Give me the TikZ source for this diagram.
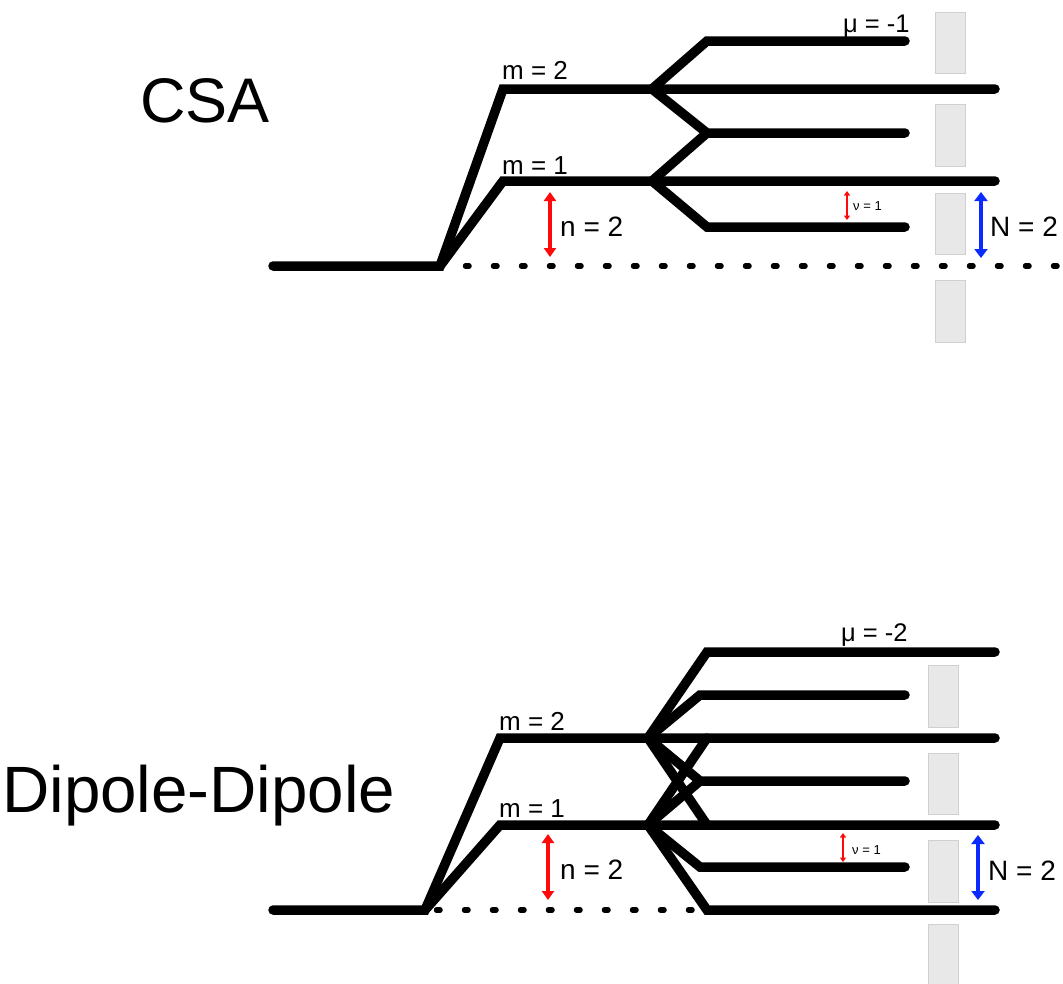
\documentclass[tikz,border=0pt]{standalone}
\usepackage{fontspec}
\setmainfont{Liberation Sans}
\usetikzlibrary{arrows.meta}
\definecolor{slotfill}{HTML}{E8E8E8}
\definecolor{slotdraw}{HTML}{D0D0D0}
\definecolor{nred}{HTML}{FF0A0A}
\definecolor{nblue}{HTML}{0A2AFF}
\tikzset{
  lvl/.style={line width=9.5pt, line cap=round, line join=miter},
  dotline/.style={line width=5.5pt, line cap=round, dash pattern=on 3.5pt off 24.5pt},
  slot/.style={fill=slotfill, draw=slotdraw, line width=0.8pt},
  redarr/.style={draw=nred, line width=3.5pt, {Triangle[width=12pt,length=9pt]}-{Triangle[width=12pt,length=9pt]}},
  bluearr/.style={draw=nblue, line width=4pt, {Triangle[width=13pt,length=9pt]}-{Triangle[width=13pt,length=9pt]}},
  smallarr/.style={draw=nred, line width=1.6pt, {Triangle[width=6pt,length=4.5pt]}-{Triangle[width=6pt,length=4.5pt]}},
  lbl/.style={anchor=base west, inner sep=0pt, font=\fontsize{26}{26}\selectfont},
  mulbl/.style={anchor=base west, inner sep=0pt, font=\fontsize{25.5}{26}\selectfont},
  biglbl/.style={anchor=base west, inner sep=0pt, font=\fontsize{28}{28}\selectfont},
  tinylbl/.style={anchor=base west, inner sep=0pt, font=\fontsize{13}{13}\selectfont},
  title/.style={anchor=base west, inner sep=0pt, font=\fontsize{63}{63}\selectfont}
}
\begin{document}
\begin{tikzpicture}[x=1pt,y=-1pt]
\useasboundingbox (0,0) rectangle (1063,983);

% ---------- CSA ----------
\node[title] (tcsa) at (140,122) {CSA};
\path[slot] (935,12) rectangle (965,73);
\path[slot] (935,104) rectangle (965,166);
\path[slot] (935,193) rectangle (965,254);
\path[slot] (935,280) rectangle (965,342);

\coordinate (tA) at (273,266);
\coordinate (tS) at (440,266);
\coordinate (tM2) at (503,89);
\coordinate (tM2r) at (652,89);
\coordinate (tM1) at (503,181);
\coordinate (tM1r) at (652,181);
\coordinate (tB1) at (707,41);  \coordinate (tE1) at (905,41);
\coordinate (tE2) at (995,89);
\coordinate (tB3) at (707,133); \coordinate (tE3) at (905,133);
\coordinate (tE4) at (995,181);
\coordinate (tB5) at (707,227); \coordinate (tE5) at (905,227);
\coordinate (tD) at (1075,266);

\draw[dotline, dash phase=2.5pt] (tS) -- (tD);
\draw[lvl] (tA) -- (tS) -- (tM2) -- (tM2r) -- (tE2);
\draw[lvl] (tS) -- (tM1) -- (tM1r) -- (tE4);
\draw[lvl] (tM2r) -- (tB1) -- (tE1);
\draw[lvl] (tM2r) -- (tB3) -- (tE3);
\draw[lvl] (tM1r) -- (tB3);
\draw[lvl] (tM1r) -- (tB5) -- (tE5);

\node[lbl] (tm2) at (502,79) {m = 2};
\node[lbl] (tm1) at (502,174) {m = 1};
\node[mulbl] (tmu) at (843,32) {μ = -1};

\coordinate (tn1) at (550,192); \coordinate (tn2) at (550,257);
\draw[redarr] (tn1) -- (tn2);
\node[biglbl] (tn) at (560,236) {n = 2};
\coordinate (tv1) at (847,191); \coordinate (tv2) at (847,220);
\draw[smallarr] (tv1) -- (tv2);
\node[tinylbl] (tv) at (853,210) {ν = 1};
\coordinate (tN1) at (981,192); \coordinate (tN2) at (981,258);
\draw[bluearr] (tN1) -- (tN2);
\node[biglbl] (tN) at (990,236) {N = 2};

% ---------- Dipole-Dipole ----------
\node[title, font=\fontsize{65.5}{66}\selectfont] (bdd) at (2,812) {Dipole-Dipole};
\path[slot] (928,665) rectangle (958,727);
\path[slot] (928,753) rectangle (958,814);
\path[slot] (928,840) rectangle (958,902);
\path[slot] (928,924) rectangle (958,995);

\coordinate (bA) at (273,910);
\coordinate (bS) at (425,910);
\coordinate (bM2) at (500,738);
\coordinate (bM2r) at (648,738);
\coordinate (bM1) at (500,825);
\coordinate (bM1r) at (648,825);
\coordinate (bB1) at (707,652); \coordinate (bE1) at (995,652);
\coordinate (bB2) at (700,695); \coordinate (bE2) at (905,695);
\coordinate (bB3) at (707,738); \coordinate (bE3) at (995,738);
\coordinate (bB4) at (700,781); \coordinate (bE4) at (905,781);
\coordinate (bB5) at (707,825); \coordinate (bE5) at (995,825);
\coordinate (bB6) at (700,867); \coordinate (bE6) at (905,867);
\coordinate (bB7) at (707,910); \coordinate (bE7) at (995,910);
\coordinate (bD) at (700,910);

\draw[dotline, dash phase=16.5pt] (bS) -- (bD);
\draw[lvl] (bA) -- (bS) -- (bM2) -- (bM2r) -- (bE3);
\draw[lvl] (bS) -- (bM1) -- (bM1r) -- (bE5);
\draw[lvl] (bM2r) -- (bB1) -- (bE1);
\draw[lvl] (bM2r) -- (bB2) -- (bE2);
\draw[lvl] (bM2r) -- (bB4) -- (bE4);
\draw[lvl] (bM2r) -- (bB5);
\draw[lvl] (bM1r) -- (bB3);
\draw[lvl] (bM1r) -- (bB4);
\draw[lvl] (bM1r) -- (bB6) -- (bE6);
\draw[lvl] (bM1r) -- (bB7) -- (bE7);

\node[lbl] (bm2) at (499,730) {m = 2};
\node[lbl] (bm1) at (499,817) {m = 1};
\node[mulbl] (bmu) at (841,641) {μ = -2};

\coordinate (bn1) at (548,834); \coordinate (bn2) at (548,900);
\draw[redarr] (bn1) -- (bn2);
\node[biglbl] (bn) at (560,879) {n = 2};
\coordinate (bv1) at (843,833); \coordinate (bv2) at (843,862);
\draw[smallarr] (bv1) -- (bv2);
\node[tinylbl] (bv) at (852,854) {ν = 1};
\coordinate (bN1) at (978,835); \coordinate (bN2) at (978,900);
\draw[bluearr] (bN1) -- (bN2);
\node[biglbl] (bN) at (988,880) {N = 2};
\end{tikzpicture}
\end{document}
